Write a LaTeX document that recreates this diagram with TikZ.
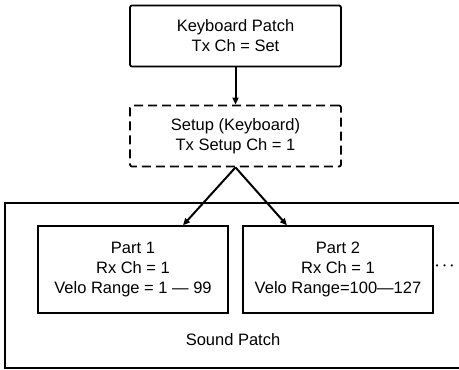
\documentclass[tikz,border=0pt]{standalone}
\usepackage{fontspec}
\usepackage{amsmath}
\setmainfont{Liberation Sans}
\usetikzlibrary{arrows.meta, positioning}

\begin{document}
\begin{tikzpicture}[
    x=1pt, y=-1pt,
    >={Triangle[length=7pt, width=6pt]},
    patchbox/.style={draw, line width=1.8pt, rounded corners=2pt,
                     minimum width=211pt, minimum height=61pt, align=center,
                     font=\fontsize{16.5pt}{20pt}\selectfont},
    partbox/.style={draw, line width=1.4pt,
                    minimum width=190pt, minimum height=87pt, align=center,
                    font=\fontsize{16.5pt}{20pt}\selectfont},
    link/.style={->, line width=2pt}
  ]
  \useasboundingbox (0,0) rectangle (459,370);

  % Keyboard side
  \node[patchbox] (kbd) at (235.5, 36) {Keyboard Patch\\Tx Ch = Set};
  \node[patchbox, dashed, dash pattern=on 9pt off 5pt] (setup) at (235.5, 136)
    {Setup (Keyboard)\\Tx Setup Ch = 1};

  % Sound patch (open on the right)
  \draw[line width=1.4pt] (470, 203) -- (5, 203) -- (5, 368) -- (470, 368);
  \node[partbox] (p1) at (133, 269.5)
    {Part 1\\Rx Ch = 1\\Velo Range = 1 — 99};
  \node[partbox] (p2) at (338, 269.5)
    {Part 2\\Rx Ch = 1\\Velo Range=100—127};
  \node[font=\fontsize{15pt}{15pt}\selectfont, inner sep=0pt] (more)
    at (446, 266) {$\boldsymbol{\cdots}$};
  \node[font=\fontsize{16.5pt}{20pt}\selectfont] (snd) at (233, 340) {Sound Patch};

  \draw[link] (kbd) -- (setup);
  \draw[link] (setup.south) -- ([xshift=50pt]p1.north);
  \draw[link] (setup.south) -- ([xshift=-51pt]p2.north);
\end{tikzpicture}
\end{document}
